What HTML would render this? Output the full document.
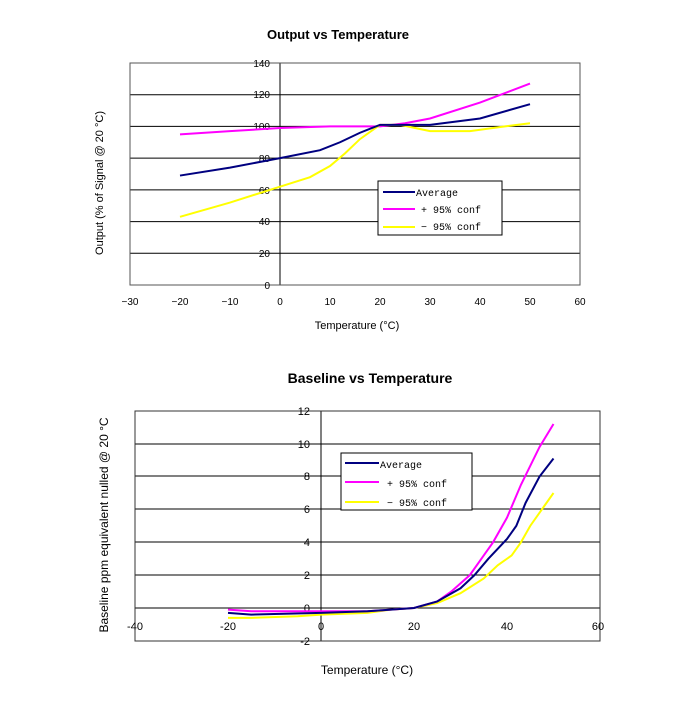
<!DOCTYPE html>
<html><head><style>
body{margin:0;background:#fff}
svg text{font-family:"Liberation Sans",sans-serif;fill:#000}
.m{font-family:"Liberation Mono",monospace;font-size:10px}
.g line{stroke:#000;stroke-width:1}
</style></head><body>
<svg width="700" height="700" viewBox="0 0 700 700" xmlns="http://www.w3.org/2000/svg">
<rect width="700" height="700" fill="#fff"/>
<!-- Chart 1 -->
<text x="338" y="39" text-anchor="middle" font-size="13" font-weight="bold">Output vs Temperature</text>
<g class="g">
<line x1="130" y1="94.7" x2="580" y2="94.7"/><line x1="130" y1="126.4" x2="580" y2="126.4"/>
<line x1="130" y1="158.1" x2="580" y2="158.1"/><line x1="130" y1="189.9" x2="580" y2="189.9"/>
<line x1="130" y1="221.6" x2="580" y2="221.6"/><line x1="130" y1="253.3" x2="580" y2="253.3"/>
<line x1="280" y1="63" x2="280" y2="285"/>
</g>
<rect x="130" y="63" width="450" height="222" fill="none" stroke="#555" stroke-width="1"/>
<g class="m" text-anchor="end">
<text x="270" y="67">140</text><text x="270" y="98">120</text><text x="270" y="130">100</text>
<text x="270" y="162">80</text><text x="270" y="194">60</text><text x="270" y="225">40</text>
<text x="270" y="257">20</text><text x="270" y="289">0</text>
</g>
<g class="m" text-anchor="middle">
<text x="130" y="305">−30</text><text x="180" y="305">−20</text><text x="230" y="305">−10</text>
<text x="280" y="305">0</text><text x="330" y="305">10</text><text x="380" y="305">20</text>
<text x="430" y="305">30</text><text x="480" y="305">40</text><text x="530" y="305">50</text><text x="580" y="305">60</text>
</g>
<text x="357" y="329" text-anchor="middle" font-size="11">Temperature (°C)</text>
<text transform="translate(103,183) rotate(-90)" text-anchor="middle" font-size="11">Output (% of Signal @ 20 °C)</text>
<g transform="matrix(5 0 0 -1.586 280 285)" fill="none" stroke-width="2">
<polyline vector-effect="non-scaling-stroke" stroke="#ff00ff" points="-20,95 -10,97 0,99 10,100 20,100 25,102 30,105 40,115 50,127"/>
<polyline vector-effect="non-scaling-stroke" stroke="#ffff00" points="-20,43 -10,52 0,62 6,68 10,75 13,83 16,92 20,101 24,101 27,99 30,97 38,97 45,100 50,102"/>
<polyline vector-effect="non-scaling-stroke" stroke="#000080" points="-20,69 -10,74 0,80 8,85 12,90 16,96 20,101 25,101 30,101 40,105 50,114"/>
</g>
<rect x="378" y="181" width="124" height="54" fill="#fff" stroke="#000"/>
<line x1="383" y1="192" x2="415" y2="192" stroke="#000080" stroke-width="2"/>
<line x1="383" y1="209" x2="415" y2="209" stroke="#ff00ff" stroke-width="2"/>
<line x1="383" y1="227" x2="415" y2="227" stroke="#ffff00" stroke-width="2"/>
<text class="m" x="416" y="196">Average</text>
<text class="m" x="421" y="213">+ 95% conf</text>
<text class="m" x="421" y="230">− 95% conf</text>
<!-- Chart 2 -->
<text x="370" y="383" text-anchor="middle" font-size="14" font-weight="bold">Baseline vs Temperature</text>
<g class="g">
<line x1="135" y1="444" x2="600" y2="444"/><line x1="135" y1="476" x2="600" y2="476"/>
<line x1="135" y1="509" x2="600" y2="509"/><line x1="135" y1="542" x2="600" y2="542"/>
<line x1="135" y1="575" x2="600" y2="575"/><line x1="135" y1="608" x2="600" y2="608"/>
<line x1="321" y1="411" x2="321" y2="641"/>
</g>
<rect x="135" y="411" width="465" height="230" fill="none" stroke="#333" stroke-width="1"/>
<g text-anchor="end" font-size="11">
<text x="310" y="415">12</text><text x="310" y="448">10</text><text x="310" y="480">8</text>
<text x="310" y="513">6</text><text x="310" y="546">4</text><text x="310" y="579">2</text>
<text x="310" y="612">0</text><text x="310" y="645">-2</text>
</g>
<g text-anchor="middle" font-size="11">
<text x="135" y="630">-40</text><text x="228" y="630">-20</text><text x="321" y="630">0</text>
<text x="414" y="630">20</text><text x="507" y="630">40</text><text x="598" y="630">60</text>
</g>
<text x="367" y="674" text-anchor="middle" font-size="12">Temperature (°C)</text>
<text transform="translate(108,525) rotate(-90)" text-anchor="middle" font-size="12">Baseline ppm equivalent nulled @ 20 °C</text>
<g transform="matrix(4.65 0 0 -16.43 321 608)" fill="none" stroke-width="2">
<polyline vector-effect="non-scaling-stroke" stroke="#ffff00" points="-20,-0.6 -15,-0.6 -5,-0.5 0,-0.4 10,-0.3 15,-0.1 20,0 25,0.3 30,0.9 35,1.8 38,2.6 41,3.2 43,4 45,5 48,6.2 50,7"/>
<polyline vector-effect="non-scaling-stroke" stroke="#ff00ff" points="-20,-0.1 -15,-0.2 10,-0.2 15,-0.1 20,0 25,0.4 28,1 32,2 35,3.2 37,4 40,5.5 43,7.5 47,9.8 50,11.2"/>
<polyline vector-effect="non-scaling-stroke" stroke="#000080" points="-20,-0.3 -15,-0.4 0,-0.3 10,-0.2 15,-0.1 20,0 25,0.4 30,1.2 33,2 36,3 40,4.2 42,5 44,6.4 47,8 50,9.1"/>
</g>
<rect x="341" y="453" width="131" height="57" fill="#fff" stroke="#000"/>
<line x1="345" y1="463" x2="379" y2="463" stroke="#000080" stroke-width="2"/>
<line x1="345" y1="482" x2="379" y2="482" stroke="#ff00ff" stroke-width="2"/>
<line x1="345" y1="502" x2="379" y2="502" stroke="#ffff00" stroke-width="2"/>
<text class="m" x="380" y="468">Average</text>
<text class="m" x="387" y="487">+ 95% conf</text>
<text class="m" x="387" y="506">− 95% conf</text>
</svg>
</body></html>
